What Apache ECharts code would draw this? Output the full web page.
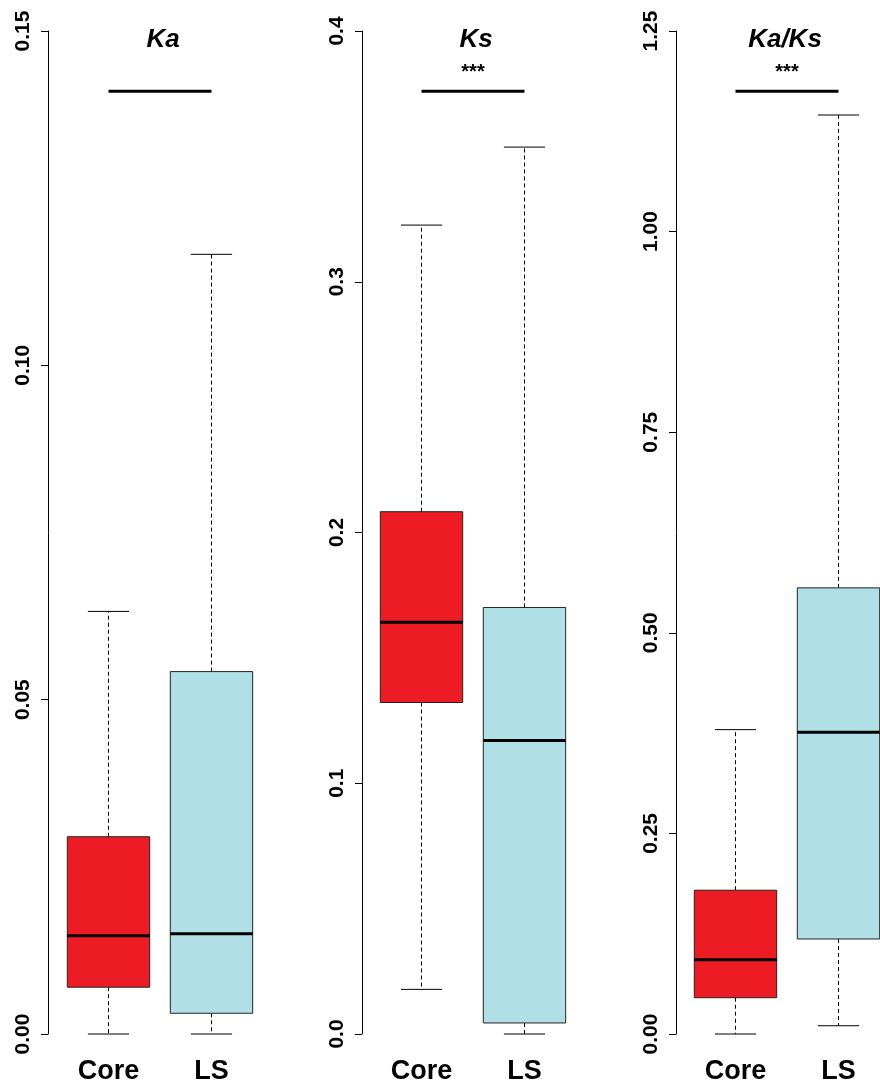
<!DOCTYPE html>
<html>
<head>
<meta charset="utf-8">
<script src="https://cdn.jsdelivr.net/npm/echarts@6/dist/echarts.min.js"></script>
<style>
  html, body { margin: 0; padding: 0; background: #fff; }
  #chart { width: 880px; height: 1085px; }
</style>
</head>
<body>
<div id="chart"></div>
<script>
// Groups compared in each panel
const categories = ['Core', 'LS'];
const panelTitles = ['Ka', 'Ks', 'Ka/Ks'];

// Box summaries: [lower whisker, Q1, median, Q3, upper whisker]
const kaCore = [0, 0.0070, 0.0147, 0.0295, 0.0632];
const kaLS = [0, 0.0031, 0.0150, 0.0542, 0.1166];
const ksCore = [0.0178, 0.1322, 0.1642, 0.2083, 0.3226];
const ksLS = [0, 0.0044, 0.1170, 0.1701, 0.3537];
const kaksCore = [0, 0.0452, 0.0925, 0.1792, 0.3793];
const kaksLS = [0.0103, 0.1184, 0.3762, 0.5560, 1.1453];

// Y axis ranges and tick spacing per panel
const yMax = [0.15, 0.4, 1.25];
const yStep = [0.05, 0.1, 0.25];
const yDecimals = [2, 1, 2];

// Significance bracket height and marker per panel
const sigLevel = [0.141, 0.376, 1.175];
const sigStars = ['', '***', '***'];

const boxColors = ['#ED1C24', '#B0E0E6'];

const panels = [[kaCore, kaLS], [ksCore, ksLS], [kaksCore, kaksLS]];

const FONT = '"Liberation Sans", Arial, Helvetica, sans-serif';
const gridLeft = [57, 370, 684];
const axisOffset = [9, 8, 8];
const titleX = [158, 471, 780];

function renderBox(params, api) {
  const x = api.value(0);
  const v = [1, 2, 3, 4, 5].map(i => api.value(i));
  const pt = v.map(val => api.coord([x, val]));
  const cx = pt[0][0];
  const bw = api.size([1, 0])[0] * 0.8;
  const cap = bw / 2;
  const lineBlack = { stroke: '#000', lineWidth: 1 };
  const dashed = { stroke: '#000', lineWidth: 1, lineDash: [4, 3] };
  return {
    type: 'group',
    children: [
      { type: 'line', shape: { x1: cx, y1: pt[3][1], x2: cx, y2: pt[4][1] }, style: dashed },
      { type: 'line', shape: { x1: cx, y1: pt[1][1], x2: cx, y2: pt[0][1] }, style: dashed },
      { type: 'line', shape: { x1: cx - cap / 2, y1: pt[4][1], x2: cx + cap / 2, y2: pt[4][1] }, style: lineBlack },
      { type: 'line', shape: { x1: cx - cap / 2, y1: pt[0][1], x2: cx + cap / 2, y2: pt[0][1] }, style: lineBlack },
      {
        type: 'rect',
        shape: { x: cx - bw / 2, y: pt[3][1], width: bw, height: pt[1][1] - pt[3][1] },
        style: { fill: boxColors[x], stroke: '#222', lineWidth: 1 }
      },
      { type: 'line', shape: { x1: cx - bw / 2, y1: pt[2][1], x2: cx + bw / 2, y2: pt[2][1] }, style: { stroke: '#000', lineWidth: 3 } }
    ]
  };
}

function renderSig(params, api) {
  const y = api.value(2);
  const a = api.coord([api.value(0), y]);
  const b = api.coord([api.value(1), y]);
  const children = [
    { type: 'line', shape: { x1: a[0], y1: a[1], x2: b[0], y2: b[1] }, style: { stroke: '#000', lineWidth: 3 } }
  ];
  const label = sigStars[params.seriesIndex / 2 | 0];
  if (label) {
    children.push({
      type: 'text',
      style: {
        text: label, x: (a[0] + b[0]) / 2, y: a[1] - 19,
        align: 'center', verticalAlign: 'middle',
        font: 'bold 20px ' + FONT, fill: '#000'
      }
    });
  }
  return { type: 'group', children };
}

const option = {
  animation: false,
  backgroundColor: '#fff',
  title: panelTitles.map((t, i) => ({
    text: t,
    left: titleX[i],
    top: 22,
    textAlign: 'center',
    textStyle: { fontFamily: FONT, fontSize: 26, fontWeight: 'bold', fontStyle: 'italic', color: '#000' }
  })),
  grid: panels.map((p, i) => ({
    left: gridLeft[i], top: 31, width: 206, bottom: 51,
    outerBoundsMode: 'none', containLabel: false
  })),
  xAxis: panels.map((p, i) => ({
    type: 'category',
    gridIndex: i,
    data: categories,
    boundaryGap: true,
    axisLine: { show: false },
    axisTick: { show: false },
    splitLine: { show: false },
    axisLabel: { margin: 24, fontFamily: FONT, fontSize: 27, fontWeight: 'bold', color: '#000' }
  })),
  yAxis: panels.map((p, i) => ({
    type: 'value',
    gridIndex: i,
    min: 0,
    max: yMax[i],
    interval: yStep[i],
    offset: axisOffset[i],
    axisLine: { show: true, lineStyle: { color: '#000', width: 1 } },
    axisTick: { show: true, length: 7, lineStyle: { color: '#000', width: 1 } },
    splitLine: { show: false },
    axisLabel: {
      rotate: 90,
      margin: 14,
      fontFamily: FONT, fontSize: 21, fontWeight: 'bold', color: '#000',
      formatter: v => v.toFixed(yDecimals[i])
    }
  })),
  series: panels.flatMap((p, i) => [
    {
      type: 'custom',
      xAxisIndex: i,
      yAxisIndex: i,
      renderItem: renderBox,
      clip: false,
      data: p.map((s, k) => [k].concat(s))
    },
    {
      type: 'custom',
      xAxisIndex: i,
      yAxisIndex: i,
      renderItem: renderSig,
      clip: false,
      data: [[0, 1, sigLevel[i]]]
    }
  ])
};

const chart = echarts.init(document.getElementById('chart'), null, { renderer: 'canvas' });
chart.setOption(option);
</script>
</body>
</html>
